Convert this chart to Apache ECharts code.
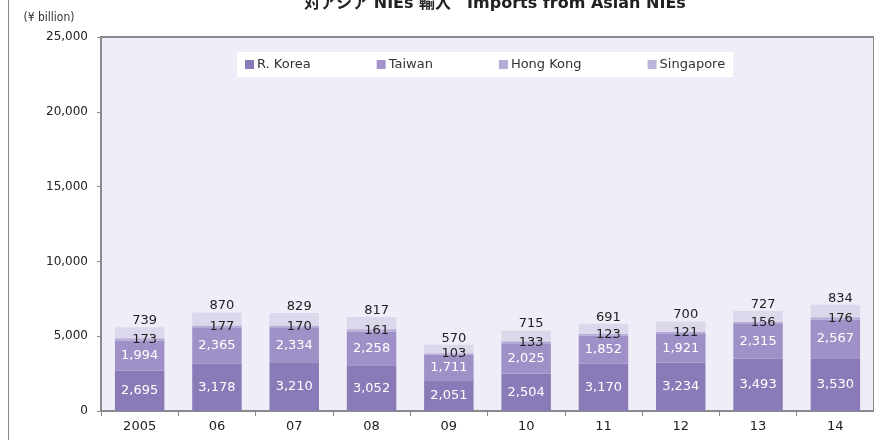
<!DOCTYPE html>
<html>
<head>
<meta charset="utf-8">
<script src="https://cdn.jsdelivr.net/npm/echarts@6/dist/echarts.min.js"></script>
<style>
  html, body { margin: 0; padding: 0; background: #fff; }
  #chart { width: 874px; height: 440px; }
</style>
</head>
<body>
<div id="chart"></div>
<script>
// 年份
var years = ["2005", "06", "07", "08", "09", "10", "11", "12", "13", "14"];
// 各地区输入额（¥ billion）
var korea = [2695, 3178, 3210, 3052, 2051, 2504, 3170, 3234, 3493, 3530];
var taiwan = [1994, 2365, 2334, 2258, 1711, 2025, 1852, 1921, 2315, 2567];
var hongKong = [173, 177, 170, 161, 103, 133, 123, 121, 156, 176];
var singapore = [739, 870, 829, 817, 570, 715, 691, 700, 727, 834];
var yTicks = [0, 5000, 10000, 15000, 20000, 25000];

var FONT = "DejaVu Sans, Noto Sans CJK JP, sans-serif";

function fmt(v) {
  return Number(v).toLocaleString("en-US");
}

var chart = echarts.init(document.getElementById("chart"));

var option = {
  animation: false,
  textStyle: { fontFamily: FONT },
  title: {
    text: "対アジア NIEs 輸入　Imports from Asian NIEs",
    left: 490,
    textAlign: "center",
    top: -9,
    textStyle: { fontSize: 16, fontWeight: "bold", color: "#222", fontFamily: FONT },
  },
  legend: {
    left: 237,
    top: 52,
    itemWidth: 9,
    itemHeight: 9,
    itemGap: 66,
    icon: "rect",
    padding: [6, 8, 6, 8],
    backgroundColor: "#fff",
    textStyle: { fontSize: 13, color: "#333", fontFamily: FONT, padding: [0, 0, 0, -2] },
    data: ["R. Korea", "Taiwan", "Hong Kong", "Singapore"],
  },
  grid: {
    left: 101,
    top: 37,
    bottom: 29,
    width: 780,
    show: true,
    backgroundColor: "#efedf7",
    borderColor: "#8a8a8a",
    borderWidth: 2,
  },
  graphic: [
    {
      type: "line",
      shape: { x1: 8.5, y1: 0, x2: 8.5, y2: 440 },
      style: { stroke: "#8a8a8a", lineWidth: 1 },
    },
  ],
  xAxis: {
    type: "category",
    data: years,
    axisLine: { lineStyle: { color: "#8a8a8a", width: 2 } },
    axisTick: { show: true, length: 5, lineStyle: { color: "#8a8a8a" } },
    axisLabel: { fontSize: 13, color: "#222", margin: 9, fontFamily: FONT },
  },
  yAxis: {
    type: "value",
    min: yTicks[0],
    max: yTicks[yTicks.length - 1],
    interval: 5000,
    name: "(¥ billion)",
    nameLocation: "end",
    nameGap: 13,
    nameTextStyle: {
      fontSize: 12,
      color: "#333",
      fontFamily: "Liberation Sans Narrow, DejaVu Sans Condensed, sans-serif",
      align: "center",
      padding: [0, 104, 0, 0],
    },
    splitLine: { show: false },
    axisLine: { show: true, lineStyle: { color: "#8a8a8a", width: 2 } },
    axisTick: { show: true, length: 4, lineStyle: { color: "#8a8a8a" } },
    axisLabel: {
      fontSize: 12,
      color: "#222",
      margin: 13,
      fontFamily: FONT,
      formatter: function (v) { return fmt(v); },
    },
  },
  series: [
    {
      name: "R. Korea",
      type: "bar",
      stack: "all",
      barWidth: "64%",
      data: korea,
      itemStyle: { color: "#8a7bb8" },
      label: {
        show: true,
        position: "inside",
        color: "#fff",
        fontSize: 13,
        fontFamily: FONT,
        formatter: function (p) { return fmt(p.value); },
      },
    },
    {
      name: "Taiwan",
      type: "bar",
      stack: "all",
      data: taiwan,
      itemStyle: { color: "#9f91c7" },
      label: {
        show: true,
        position: "inside",
        color: "#fff",
        fontSize: 13,
        fontFamily: FONT,
        formatter: function (p) { return fmt(p.value); },
      },
    },
    {
      name: "Hong Kong",
      type: "bar",
      stack: "all",
      data: hongKong,
      itemStyle: { color: "#b5abd7" },
      label: {
        show: true,
        position: "inside",
        color: "#222",
        fontSize: 13,
        fontFamily: FONT,
        offset: [5, 0],
        formatter: function (p) { return fmt(p.value); },
      },
    },
    {
      name: "Singapore",
      type: "bar",
      stack: "all",
      data: singapore,
      itemStyle: { color: "#dcd7eb" },
      label: {
        show: true,
        position: "top",
        distance: 0,
        color: "#222",
        fontSize: 13,
        fontFamily: FONT,
        offset: [5, 0],
        formatter: function (p) { return fmt(p.value); },
      },
    },
  ],
};

// legend 图标颜色跟 Excel 原图保持一致
option.legend.data = [
  { name: "R. Korea", itemStyle: { color: "#8a7bb8" } },
  { name: "Taiwan", itemStyle: { color: "#a395c9" } },
  { name: "Hong Kong", itemStyle: { color: "#b5abd7" } },
  { name: "Singapore", itemStyle: { color: "#bdb4db" } },
];

chart.setOption(option);
</script>
</body>
</html>
